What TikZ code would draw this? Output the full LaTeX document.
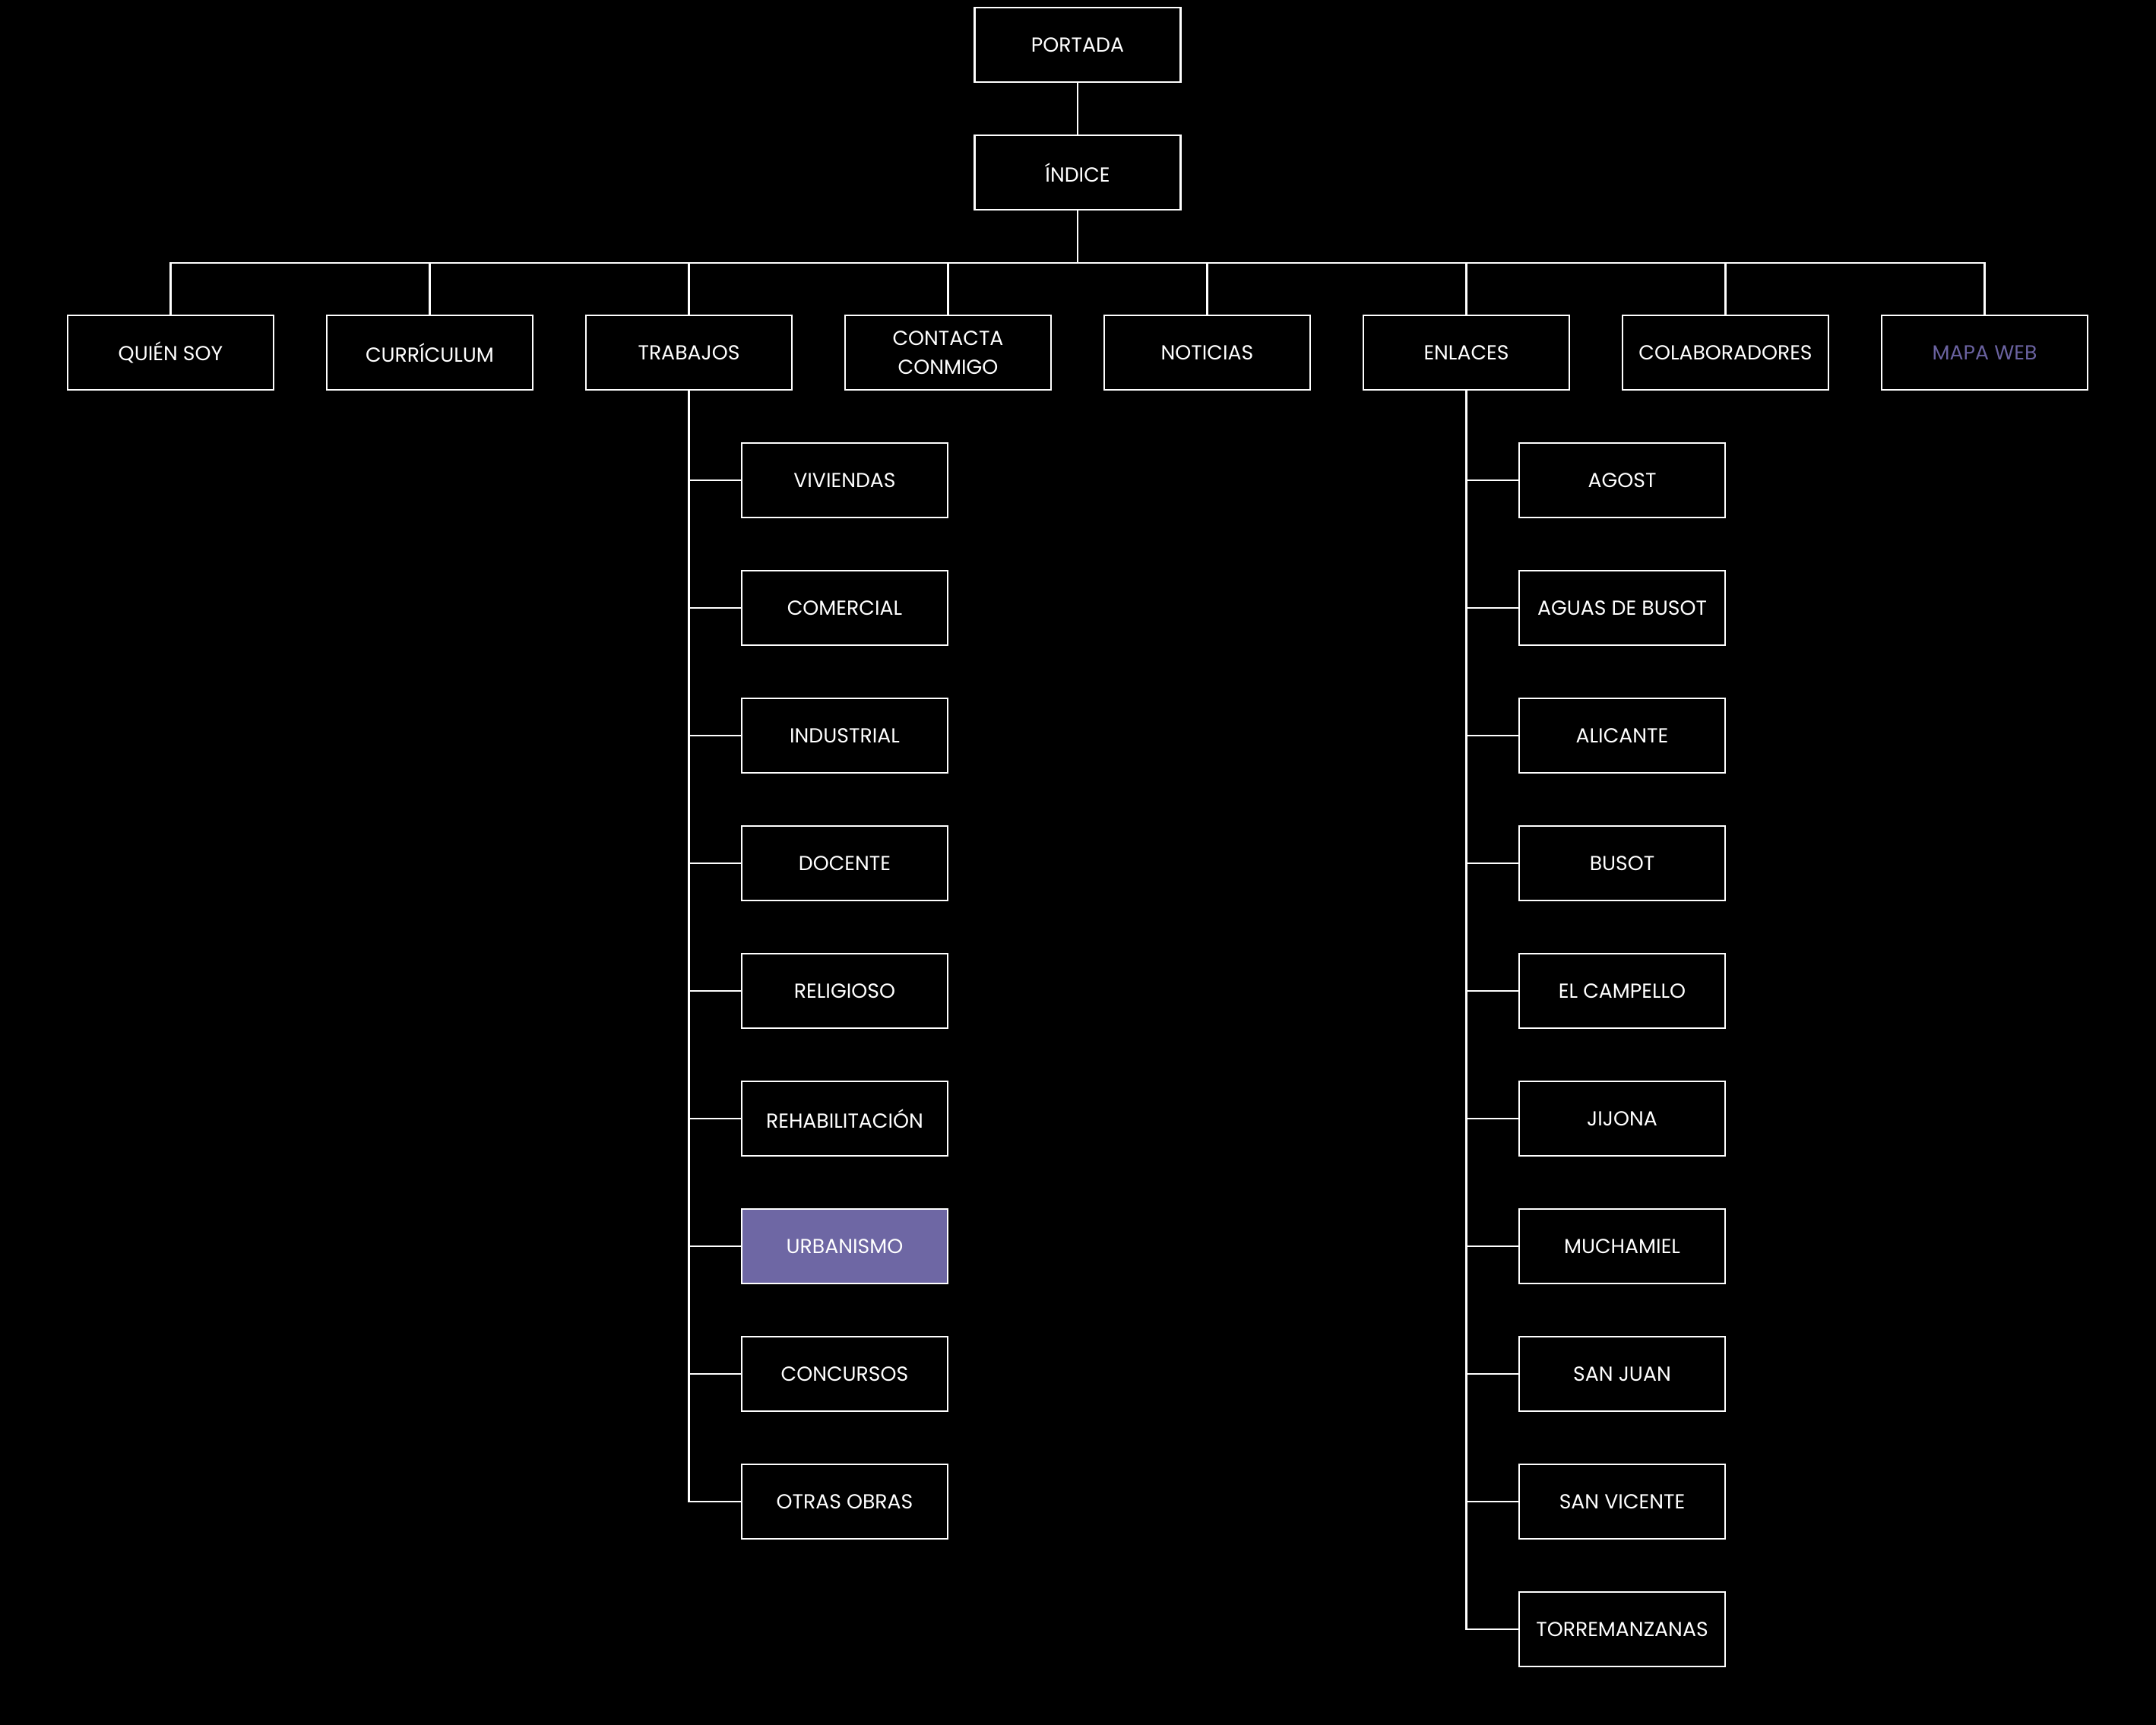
\documentclass[tikz,border=0pt]{standalone}
\usepackage{fontspec}
\setmainfont{Poppins}
\usepackage{xcolor}
\definecolor{webPurple}{HTML}{6E67A4}
\definecolor{webPurpleText}{HTML}{6A62A0}
\usepackage{tikz}
\usetikzlibrary{positioning}

\begin{document}
\begin{tikzpicture}[
		node distance=0.7cm,
		box/.style={
			draw=white,
			line width=0.6pt,
			fill=black,
			text=white,
			minimum width=2.71cm,
			minimum height=0.98cm,
			inner sep=1pt,
			outer sep=0pt,
			align=center,
			font=\fontsize{7.6}{10.8}\selectfont
		},
		link/.style={draw=white, line width=0.6pt}
		]
		
		\fill[black] (0,0) rectangle (28.37,-22.70);
		
		\node[box] (portada) at (14.18,-0.59) {PORTADA};
		\node[box, below=of portada] (indice) {ÍNDICE};
		
		\node[box] (quien) at (2.245,-4.64) {QUIÉN SOY};
		\node[box, right=of quien] (curriculum) {CURRÍCULUM};
		\node[box, right=of curriculum] (trabajos) {TRABAJOS};
		\node[box, right=of trabajos] (contacta) {CONTACTA\\CONMIGO};
		\node[box, right=of contacta] (noticias) {NOTICIAS};
		\node[box, right=of noticias] (enlaces) {ENLACES};
		\node[box, right=of enlaces] (colaboradores) {COLABORADORES};
		\node[box, right=of colaboradores, text=webPurpleText] (mapa) {MAPA WEB};
		
		\node[box, below=of trabajos, xshift=2.05cm] (viviendas) {VIVIENDAS};
		\node[box, below=of viviendas] (comercial) {COMERCIAL};
		\node[box, below=of comercial] (industrial) {INDUSTRIAL};
		\node[box, below=of industrial] (docente) {DOCENTE};
		\node[box, below=of docente] (religioso) {RELIGIOSO};
		\node[box, below=of religioso] (rehabilitacion) {REHABILITACIÓN};
		\node[box, below=of rehabilitacion, fill=webPurple] (urbanismo) {URBANISMO};
		\node[box, below=of urbanismo] (concursos) {CONCURSOS};
		\node[box, below=of concursos] (otras) {OTRAS OBRAS};
		
		\node[box, below=of enlaces, xshift=2.05cm] (agost) {AGOST};
		\node[box, below=of agost] (aguas) {AGUAS DE BUSOT};
		\node[box, below=of aguas] (alicante) {ALICANTE};
		\node[box, below=of alicante] (busot) {BUSOT};
		\node[box, below=of busot] (campello) {EL CAMPELLO};
		\node[box, below=of campello] (jijona) {JIJONA};
		\node[box, below=of jijona] (muchamiel) {MUCHAMIEL};
		\node[box, below=of muchamiel] (sanjuan) {SAN JUAN};
		\node[box, below=of sanjuan] (sanvicente) {SAN VICENTE};
		\node[box, below=of sanvicente] (torremanzanas) {TORREMANZANAS};
		
		\draw[link] (portada) -- (indice);
		\foreach \n in {quien,curriculum,trabajos,contacta,noticias,enlaces,colaboradores,mapa}
			\draw[link] (indice.south) -- ++(0,-0.7) -| (\n.north);
		\foreach \n in {viviendas,comercial,industrial,docente,religioso,rehabilitacion,urbanismo,concursos,otras}
			\draw[link] (trabajos.south) |- (\n.west);
		\foreach \n in {agost,aguas,alicante,busot,campello,jijona,muchamiel,sanjuan,sanvicente,torremanzanas}
			\draw[link] (enlaces.south) |- (\n.west);
		
	\end{tikzpicture}
\end{document}
